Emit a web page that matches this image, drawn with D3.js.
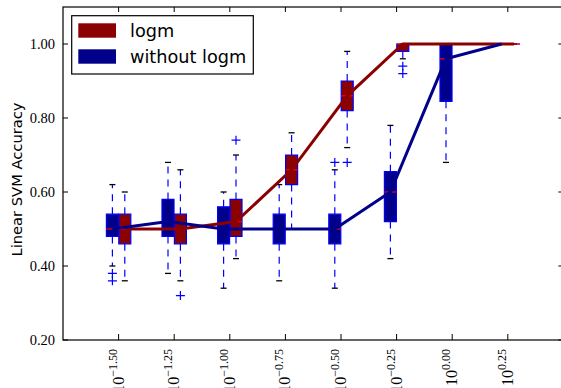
<!DOCTYPE html>
<html>
<head>
<meta charset="utf-8">
<script src="https://cdn.jsdelivr.net/npm/d3@7"></script>
<style>
  body { margin: 0; background: #fff; }
  svg { display: block; }
</style>
</head>
<body>
<div id="chart"></div>
<script>
// C values are given as log10 exponents
const cExponents = [-1.5, -1.25, -1.0, -0.75, -0.5, -0.25, 0.0, 0.25];
const tickExponents = ["\u22121.50", "\u22121.25", "\u22121.00", "\u22120.75", "\u22120.50", "\u22120.25", "0.00", "0.25"];
const seriesNames = ["logm", "without logm"];
const yTicks = [0.2, 0.4, 0.6, 0.8, 1.0];

// logm
const logmLow    = [0.36, 0.36, 0.42, 0.50, 0.72, 0.96, 1.0, 1.0];
const logmQ1     = [0.46, 0.46, 0.48, 0.62, 0.82, 0.98, 1.0, 1.0];
const logmMedian = [0.50, 0.50, 0.52, 0.66, 0.86, 1.0, 1.0, 1.0];
const logmQ3     = [0.54, 0.54, 0.58, 0.70, 0.90, 1.0, 1.0, 1.0];
const logmHigh   = [0.60, 0.66, 0.70, 0.76, 0.98, 1.0, 1.0, 1.0];
const logmFliers = [[], [0.32], [0.74], [], [0.68], [0.94, 0.92], [], []];

// without logm
const plainLow    = [0.40, 0.38, 0.34, 0.36, 0.34, 0.42, 0.68, 1.0];
const plainQ1     = [0.48, 0.48, 0.46, 0.46, 0.46, 0.52, 0.845, 1.0];
const plainMedian = [0.50, 0.52, 0.50, 0.50, 0.50, 0.60, 0.96, 1.0];
const plainQ3     = [0.54, 0.58, 0.56, 0.54, 0.54, 0.655, 1.0, 1.0];
const plainHigh   = [0.62, 0.68, 0.60, 0.62, 0.66, 0.78, 1.0, 1.0];
const plainFliers = [[0.38, 0.36], [], [], [], [0.68], [], [], []];

const width = 561;
const height = 388;
const plot = {left: 63, right: 563.4, top: 7, bottom: 340};

const darkRed = "#8b0000";
const darkBlue = "#00008b";
const boxW = 12;

const svg = d3.select("#chart").append("svg")
    .attr("width", width)
    .attr("height", height);

const x = d3.scaleLinear()
    .domain([-1.75, 0.5])
    .range([plot.left, plot.right]);

const y = d3.scaleLinear()
    .domain([0.2, 1.1])
    .range([plot.bottom, plot.top]);

function stats(low, q1, med, q3, high, fliers) {
    return cExponents.map((c, i) => ({
        c: c, lo: low[i], q1: q1[i], med: med[i], q3: q3[i], hi: high[i], fliers: fliers[i]
    }));
}

const logmStats = stats(logmLow, logmQ1, logmMedian, logmQ3, logmHigh, logmFliers);
const plainStats = stats(plainLow, plainQ1, plainMedian, plainQ3, plainHigh, plainFliers);

// box plots, drawn like matplotlib's patch_artist boxes
function drawBoxes(g, data, dx, fill) {
    data.forEach(s => {
        const cx = x(s.c) + dx;
        [[s.q1, s.lo], [s.q3, s.hi]].forEach(([from, to]) => {
            g.append("line")
                .attr("x1", cx).attr("x2", cx)
                .attr("y1", y(from)).attr("y2", y(to))
                .attr("stroke", "#0000ff")
                .attr("stroke-width", 1.2)
                .attr("stroke-dasharray", "7,6");
        });
        [s.lo, s.hi].forEach(v => {
            g.append("line")
                .attr("x1", cx - boxW / 4).attr("x2", cx + boxW / 4)
                .attr("y1", y(v)).attr("y2", y(v))
                .attr("stroke", "#000")
                .attr("stroke-width", 1.3);
        });
        const x0 = cx - boxW / 2, x1 = cx + boxW / 2;
        g.append("path")
            .attr("d", `M${x0},${y(s.q1)}H${x1}V${y(s.q3)}H${x0}Z`)
            .attr("fill", fill)
            .attr("stroke", "#0000ff")
            .attr("stroke-width", 1.2);
        g.append("line")
            .attr("x1", x0).attr("x2", x1)
            .attr("y1", y(s.med)).attr("y2", y(s.med))
            .attr("stroke", "#ff0000")
            .attr("stroke-width", 1.2);
        s.fliers.forEach(v => {
            g.append("path")
                .attr("d", `M${cx - 4.5},${y(v)}H${cx + 4.5}M${cx},${y(v) - 4.5}V${y(v) + 4.5}`)
                .attr("stroke", "#0000ff")
                .attr("stroke-width", 1.2)
                .attr("fill", "none");
        });
    });
}

const boxes = svg.append("g");
drawBoxes(boxes, logmStats, 6.2, darkRed);
drawBoxes(boxes, plainStats, -6.2, darkBlue);

// median lines
const line = dx => d3.line()
    .x(d => x(d.c) + dx)
    .y(d => y(d.med));

svg.append("path")
    .datum(logmStats)
    .attr("d", line(6.2))
    .attr("fill", "none")
    .attr("stroke", darkRed)
    .attr("stroke-width", 3);

svg.append("path")
    .datum(plainStats)
    .attr("d", line(-6.2))
    .attr("fill", "none")
    .attr("stroke", darkBlue)
    .attr("stroke-width", 3);

// frame
svg.append("rect")
    .attr("x", plot.left)
    .attr("y", plot.top)
    .attr("width", plot.right - plot.left)
    .attr("height", plot.bottom - plot.top)
    .attr("fill", "none")
    .attr("stroke", "#000")
    .attr("stroke-width", 1.2);

// inward ticks on all four sides
const tickLen = 5;
const ticks = svg.append("g").attr("stroke", "#000").attr("stroke-width", 1);
cExponents.forEach(c => {
    ticks.append("line").attr("x1", x(c)).attr("x2", x(c))
        .attr("y1", plot.bottom).attr("y2", plot.bottom - tickLen - 1);
    ticks.append("line").attr("x1", x(c)).attr("x2", x(c))
        .attr("y1", plot.top).attr("y2", plot.top + tickLen);
});
yTicks.forEach(v => {
    ticks.append("line").attr("x1", plot.left).attr("x2", plot.left + tickLen)
        .attr("y1", y(v)).attr("y2", y(v));
    ticks.append("line").attr("x1", plot.right).attr("x2", plot.right - tickLen)
        .attr("y1", y(v)).attr("y2", y(v));
});

// y tick labels
svg.append("g").selectAll("text")
    .data(yTicks)
    .enter().append("text")
        .attr("x", plot.left - 8)
        .attr("y", d => y(d))
        .attr("dy", "0.35em")
        .attr("text-anchor", "end")
        .style("font", "14.5px 'Liberation Serif', serif")
        .text(d3.format(".2f"));

// x tick labels: 10^exponent, rotated
const xLabels = svg.append("g").selectAll("text")
    .data(cExponents)
    .enter().append("text")
        .attr("transform", d => `translate(${x(d) + 5},${plot.bottom + 9}) rotate(-90)`)
        .attr("text-anchor", "end")
        .style("font-family", "'Liberation Serif', serif");
xLabels.append("tspan")
    .style("font-size", "16px")
    .text("10");
xLabels.append("tspan")
    .attr("dy", -7)
    .style("font-size", "12px")
    .text((d, i) => tickExponents[i]);

// y axis label
svg.append("text")
    .attr("transform", `translate(22,${(plot.top + plot.bottom) / 2 + 6}) rotate(-90)`)
    .attr("text-anchor", "middle")
    .style("font", "14.7px 'DejaVu Sans', sans-serif")
    .text("Linear SVM Accuracy");

// legend
const legend = svg.append("g");
legend.append("rect")
    .attr("x", 71.7).attr("y", 15.7)
    .attr("width", 181.6).attr("height", 58.3)
    .attr("fill", "#fff")
    .attr("stroke", "#000")
    .attr("stroke-width", 1.2);

const entry = legend.selectAll(".entry")
    .data(seriesNames)
    .enter().append("g")
    .attr("class", "entry")
    .attr("transform", (d, i) => `translate(78.3,${23.3 + 26 * i})`);

entry.append("rect")
    .attr("width", 37.7)
    .attr("height", 14.4)
    .attr("fill", (d, i) => i === 0 ? darkRed : darkBlue);

entry.append("text")
    .attr("x", 51.7)
    .attr("y", 7.2)
    .attr("dy", "0.35em")
    .style("font", "17.7px 'DejaVu Sans', sans-serif")
    .text(d => d);
</script>
</body>
</html>
